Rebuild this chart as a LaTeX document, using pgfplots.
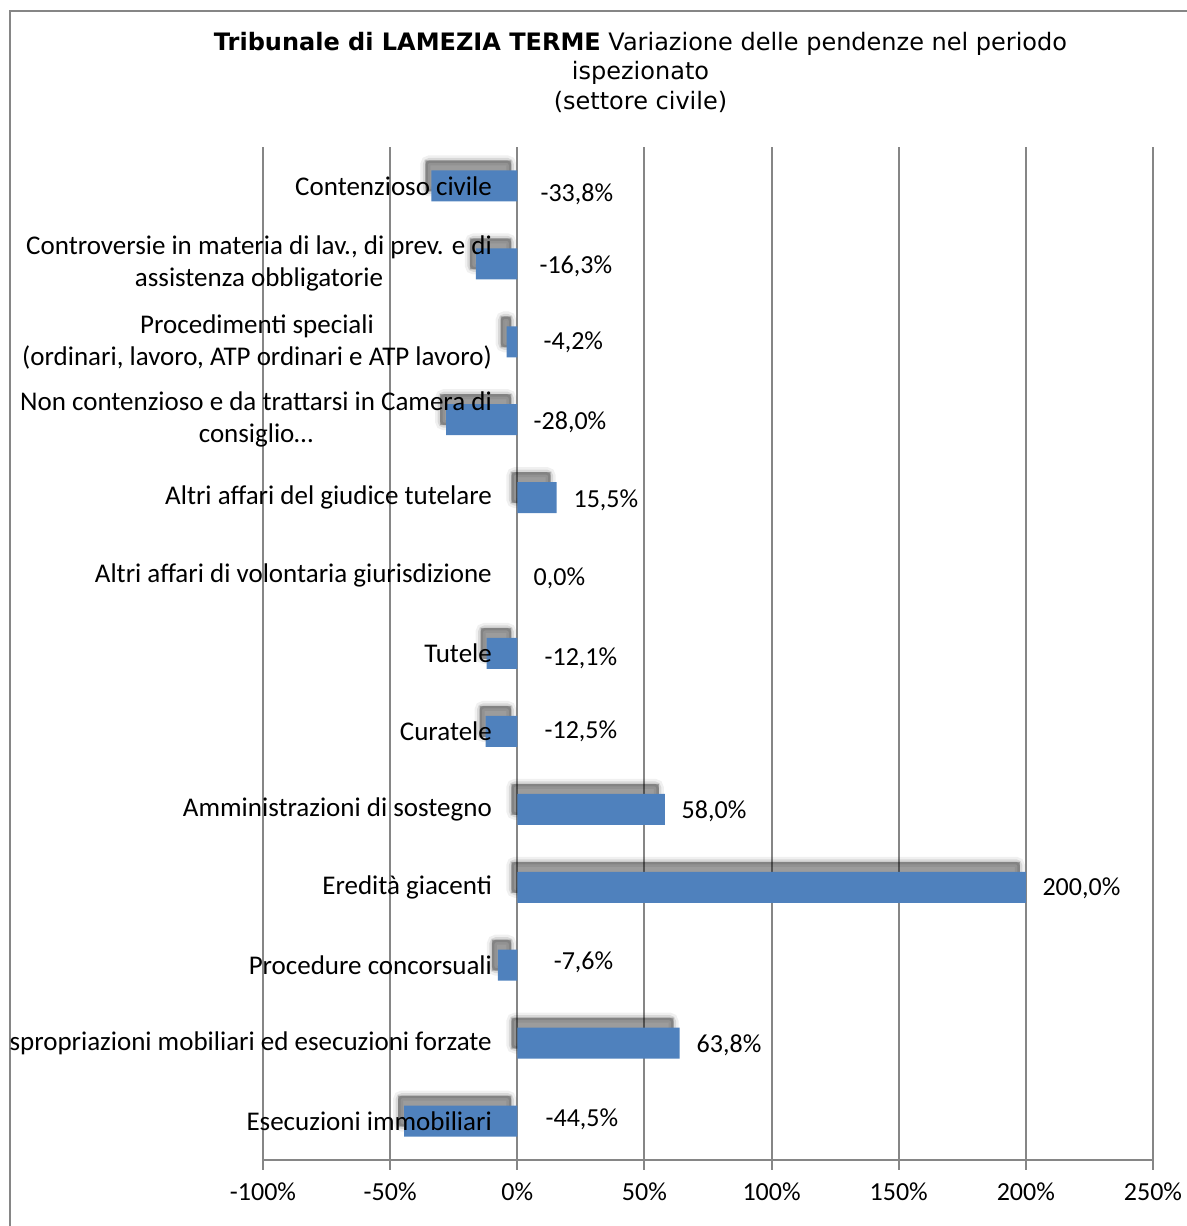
\documentclass[border=0pt]{standalone}
\usepackage{pgfplots}
\pgfplotsset{compat=1.18}
\usepackage{fontspec}
\setmainfont{Carlito}
\newfontfamily\titlefont{DejaVu Sans}
\definecolor{barblue}{HTML}{4F81BD}
\definecolor{gridgray}{HTML}{868686}

\begin{document}
\begin{tikzpicture}
	\clip (0,0) rectangle (593.5pt,613pt);
	\draw[gridgray, line width=1pt] (4.75pt,-20pt) |- (640pt,607.5pt);
	\node[font=\titlefont\fontsize{12}{14.75}\selectfont, align=center] at (320.25pt,577pt)
		{\textbf{Tribunale di LAMEZIA TERME} Variazione delle pendenze nel periodo\\ispezionato\\(settore civile)};
	\begin{scope}
		\clip (5.3pt,0pt) rectangle (593.5pt,606pt);
		\begin{axis}[
				at={(131.5pt,33pt)}, anchor=south west,
				width=445pt, height=506.5pt, scale only axis,
				xmin=-100, xmax=250, ymin=-0.5, ymax=12.5,
				xtick={-100,-50,0,50,100,150,200,250},
				xticklabels={-100\%,-50\%,0\%,50\%,100\%,150\%,200\%,250\%},
				ytick=\empty,
				axis y line=none, axis x line*=bottom,
				x axis line style={gridgray, line width=1pt, -},
				xmajorgrids, grid style={gridgray, line width=1pt},
				tick align=outside, major tick length=5pt,
				tick style={gridgray, line width=1pt},
				xticklabel style={font=\fontsize{13}{15}\selectfont, text=black, yshift=-3pt},
				clip=false,
			]
			% blurred shadow, built from a few soft layers
			\addplot[xbar, bar width=15.5pt, bar shift=0pt, xshift=-3pt, yshift=5pt, rounded corners=2pt,
				fill=black, fill opacity=0.06, draw=black, draw opacity=0.06, line width=5pt]
				coordinates {(-33.8,12) (-16.3,11) (-4.2,10) (-28.0,9) (15.5,8)
					(-12.1,6) (-12.5,5) (58.0,4) (200.0,3) (-7.6,2) (63.8,1) (-44.5,0)};
			\addplot[xbar, bar width=15.5pt, bar shift=0pt, xshift=-3pt, yshift=5pt, rounded corners=2pt,
				fill=black, fill opacity=0.1, draw=black, draw opacity=0.1, line width=2.5pt]
				coordinates {(-33.8,12) (-16.3,11) (-4.2,10) (-28.0,9) (15.5,8)
					(-12.1,6) (-12.5,5) (58.0,4) (200.0,3) (-7.6,2) (63.8,1) (-44.5,0)};
			\addplot[xbar, bar width=15.5pt, bar shift=0pt, xshift=-3pt, yshift=5pt,
				fill=black, fill opacity=0.28, draw=none]
				coordinates {(-33.8,12) (-16.3,11) (-4.2,10) (-28.0,9) (15.5,8)
					(-12.1,6) (-12.5,5) (58.0,4) (200.0,3) (-7.6,2) (63.8,1) (-44.5,0)};
			% bars
			\addplot[xbar, bar width=15.5pt, bar shift=0pt, fill=barblue, draw=none]
				coordinates {(-33.8,12) (-16.3,11) (-4.2,10) (-28.0,9) (15.5,8) (0.0,7)
					(-12.1,6) (-12.5,5) (58.0,4) (200.0,3) (-7.6,2) (63.8,1) (-44.5,0)};
			% category labels
			\begin{scope}[every node/.style={anchor=east, align=center, xshift=-9.2pt,
						font=\fontsize{13.5}{16}\selectfont}]
				\node at (axis cs:0,12) {Contenzioso civile};
				\node at (axis cs:0,11) {Controversie in materia di lav., di prev. e di\\assistenza obbligatorie};
				\node at (axis cs:0,10) {Procedimenti speciali\\(ordinari, lavoro, ATP ordinari e ATP lavoro)};
				\node at (axis cs:0,9) {Non contenzioso e da trattarsi in Camera di\\consiglio…};
				\node at (axis cs:0,8) {Altri affari del giudice tutelare};
				\node at (axis cs:0,7) {Altri affari di volontaria giurisdizione};
				\node at (axis cs:0,6) {Tutele};
				\node at (axis cs:0,5) {Curatele};
				\node at (axis cs:0,4) {Amministrazioni di sostegno};
				\node at (axis cs:0,3) {Eredità giacenti};
				\node at (axis cs:0,2) {Procedure concorsuali};
				\node at (axis cs:0,1) {Espropriazioni mobiliari ed esecuzioni forzate};
				\node at (axis cs:0,0) {Esecuzioni immobiliari};
			\end{scope}
			% value labels
			\begin{scope}[every node/.style={anchor=west, inner xsep=0pt, yshift=-1.2pt, font=\fontsize{13}{15}\selectfont}]
				\node at (axis cs:9.0,11.93) {-33,8\%};
				\node at (axis cs:8.6,11.0) {-16,3\%};
				\node at (axis cs:10.2,10.03) {-4,2\%};
				\node at (axis cs:6.3,9.0) {-28,0\%};
				\node at (axis cs:22.0,8.0) {15,5\%};
				\node at (axis cs:6.3,7.0) {0,0\%};
				\node at (axis cs:10.6,5.97) {-12,1\%};
				\node at (axis cs:10.6,5.03) {-12,5\%};
				\node at (axis cs:64.5,4.0) {58,0\%};
				\node at (axis cs:206.4,3.02) {200,0\%};
				\node at (axis cs:14.2,2.07) {-7,6\%};
				\node at (axis cs:70.4,1.0) {63,8\%};
				\node at (axis cs:11.0,0.05) {-44,5\%};
			\end{scope}
		\end{axis}
	\end{scope}
\end{tikzpicture}
\end{document}
